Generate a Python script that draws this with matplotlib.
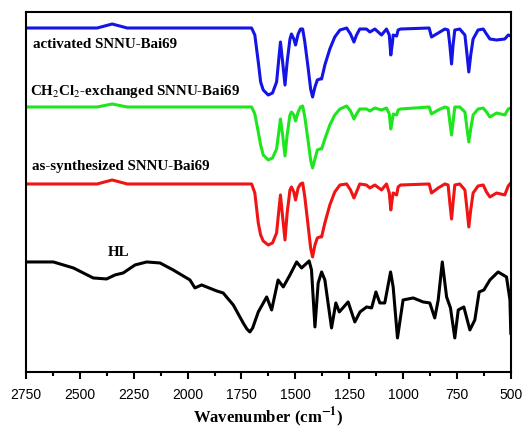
import matplotlib
matplotlib.use("Agg")
import matplotlib.pyplot as plt
from matplotlib.ticker import MultipleLocator

plt.rcParams["mathtext.fontset"] = "stix"

# wavenumber grid (cm-1) used for the three MOF spectra
wn_mof = [2750, 2420, 2350, 2280, 1703, 1688, 1672, 1661, 1649, 1626, 1606, 1587,
          1575, 1569, 1559, 1548, 1538, 1525, 1518, 1507, 1499, 1487, 1476, 1466,
          1456, 1440, 1429, 1420, 1409, 1398, 1386, 1378, 1363, 1340, 1317, 1293,
          1262, 1244, 1228, 1216, 1201, 1170, 1154, 1131, 1100, 1077, 1064, 1057,
          1049, 1046, 1030, 1023, 1012, 879, 868, 837, 806, 791, 783, 775,
          768, 760, 737, 713, 703, 695, 686, 675, 652, 628, 613, 597,
          566, 528, 512, 500]

# transmittance (offset, a.u.)
activated = [344, 344, 348, 344, 344, 337, 310, 290, 282, 277, 279, 290,
             317, 330, 310, 287, 310, 333, 338, 333, 327, 338, 343, 343,
             330, 303, 283, 275, 285, 292, 293, 293, 307, 323, 335, 342,
             344, 338, 330, 337, 343, 343, 340, 343, 337, 343, 337, 317,
             330, 337, 336, 342, 343, 344, 335, 339, 343, 342, 327, 308,
             327, 342, 343, 337, 317, 300, 317, 333, 342, 343, 338, 333,
             332, 333, 337, 336]

exchanged = [265, 265, 268, 265, 265, 258, 240, 227, 217, 212, 214, 223,
             243, 253, 237, 216, 237, 257, 260, 257, 251, 260, 265, 266,
             255, 230, 212, 204, 213, 222, 223, 223, 233, 247, 257, 263,
             266, 261, 253, 258, 263, 263, 261, 264, 262, 264, 258, 243,
             253, 258, 257, 262, 263, 265, 258, 262, 265, 264, 250, 237,
             250, 265, 265, 260, 243, 230, 243, 257, 263, 264, 260, 255,
             259, 257, 263, 264]

as_synth = [188, 188, 192, 188, 188, 179, 149, 137, 131, 127, 129, 139,
            165, 177, 155, 132, 159, 182, 185, 180, 172, 184, 188, 189,
            175, 145, 124, 115, 127, 134, 135, 135, 149, 167, 180, 187,
            188, 182, 174, 180, 188, 187, 184, 187, 182, 188, 179, 162,
            175, 179, 177, 185, 187, 188, 179, 184, 188, 187, 169, 153,
            169, 187, 188, 182, 162, 145, 162, 179, 186, 187, 180, 175,
            179, 177, 186, 189]

# free ligand HL
wn_hl = [2750, 2623, 2530, 2438, 2376, 2337, 2299, 2244, 2190, 2128, 2067, 1989,
         1966, 1935, 1865, 1835, 1788, 1742, 1725, 1711, 1698, 1672, 1633, 1610,
         1580, 1556, 1525, 1494, 1471, 1436, 1425, 1409, 1394, 1378, 1363, 1332,
         1312, 1296, 1255, 1224, 1200, 1169, 1146, 1126, 1108, 1085, 1058, 1046,
         1026, 1000, 953, 907, 876, 853, 837, 818, 798, 780, 760, 744, 718, 690,
         667, 647, 625, 597, 559, 520, 504, 500]
hl = [110, 110, 104, 94, 93, 97, 99, 107, 110, 109, 102, 92,
      84, 87, 81, 79, 67, 49, 43, 40, 44, 60, 75, 62,
      92, 85, 97, 110, 104, 111, 102, 45, 89, 100, 92, 44,
      69, 60, 70, 50, 60, 65, 64, 80, 69, 69, 100, 85,
      34, 72, 74, 70, 69, 54, 72, 110, 75, 64, 34, 62, 65, 42,
      52, 80, 82, 92, 100, 95, 72, 38]

labels = ["activated SNNU-Bai69", "CH$_2$Cl$_2$-exchanged SNNU-Bai69",
          "as-synthesized SNNU-Bai69", "HL"]
colors = ["#1414e6", "#1ee61e", "#f01414", "black"]

fig = plt.figure(figsize=(5.23, 4.29), dpi=100)
ax = fig.add_axes([0.0497, 0.133, 0.927, 0.839])

line_kw = dict(lw=2.2, solid_joinstyle="round", solid_capstyle="round")
ax.plot(wn_mof, activated, color=colors[0], **line_kw)
ax.plot(wn_mof, exchanged, color=colors[1], **line_kw)
ax.plot(wn_mof, as_synth, color=colors[2], **line_kw)
ax.plot(wn_hl, hl, color=colors[3], **line_kw)

ax.set_xlim(2750, 500)
ax.set_ylim(0, 360)
ax.xaxis.set_major_locator(MultipleLocator(250))
ax.xaxis.set_minor_locator(MultipleLocator(125))
ax.set_yticks([])
ax.tick_params(axis="x", which="major", length=5, width=1.5, pad=6.5, labelsize=10)
ax.tick_params(axis="x", which="minor", length=3, width=1.5)
for lab in ax.get_xticklabels():
    lab.set_fontfamily("Liberation Sans")
for s in ax.spines.values():
    s.set_linewidth(1.5)

serif = dict(fontfamily="Liberation Serif", fontweight="bold", fontsize=10.8,
             va="center", ha="left")
ax.text(2718, 328, labels[0], **serif)
ax.text(2731, 280, labels[1], **serif)
ax.text(2722, 205, labels[2], **serif)
ax.text(2370, 119, labels[3], **serif)

ax.set_xlabel(r"Wavenumber (cm$^{\mathbf{-1}}$)", fontfamily="Liberation Serif",
              fontweight="bold", fontsize=12, labelpad=2)

fig.savefig("out.png", dpi=100)
